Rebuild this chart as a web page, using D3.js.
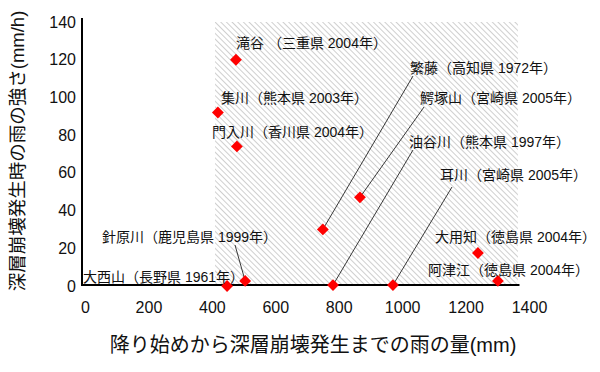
<!DOCTYPE html>
<html>
<head>
<meta charset="utf-8">
<script src="https://cdn.jsdelivr.net/npm/d3@7"></script>
<style>
  body { margin: 0; background: #fff; }
  text { font-family: "Liberation Sans", "Noto Sans CJK JP", sans-serif; fill: #111; }
</style>
</head>
<body>
<div id="chart"></div>
<script>
// data
var sites = ["滝谷 （三重県 2004年）", "集川（熊本県 2003年）", "門入川（香川県 2004年）",
             "繁藤（高知県 1972年）", "鰐塚山（宮崎県 2005年）", "油谷川（熊本県 1997年）",
             "耳川（宮崎県 2005年）", "大用知（徳島県 2004年）", "阿津江（徳島県 2004年）",
             "針原川（鹿児島県 1999年）", "大西山（長野県 1961年）"];
var rainTotal = [476, 419, 479, 750, 867, 782, 971, 1239, 1302, 505, 448];   // mm
var rainPeak  = [120, 92, 74, 30, 47, 0.5, 0.5, 17.5, 2.7, 2.7, 0];         // mm/h
var xTicks = [0, 200, 400, 600, 800, 1000, 1200, 1400];
var yTicks = [0, 20, 40, 60, 80, 100, 120, 140];
var zone = [410, 1365];   // shaded band of rain total

// label placement (pixels) and leader line start, null = no leader
var labelPos = [[236, 43], [221, 98], [212, 132], [410, 68], [420, 98], [409, 142],
                [440, 175], [435, 237], [428, 270], [102, 237], [83, 277]];
var leaderFrom = [null, null, null, [413, 76], [424, 107], [413, 150],
                  [452, 187], null, null, [235, 245], null];

var W = 600, H = 372;

var svg = d3.select("#chart").append("svg")
    .attr("width", W)
    .attr("height", H);

var x = d3.scaleLinear().domain([0, 1400]).range([85, 529]);
var y = d3.scaleLinear().domain([0, 140]).range([286, 22]);

// hatch
var defs = svg.append("defs");
defs.append("pattern")
    .attr("id", "hatch")
    .attr("patternUnits", "userSpaceOnUse")
    .attr("width", 4)
    .attr("height", 4)
    .attr("patternTransform", "rotate(-45)")
  .append("line")
    .attr("x1", 0).attr("y1", 0)
    .attr("x2", 0).attr("y2", 4)
    .attr("stroke", "#b4b4b4")
    .attr("stroke-width", 1.3);

svg.append("rect")
    .attr("x", x(zone[0]))
    .attr("y", y(140))
    .attr("width", x(zone[1]) - x(zone[0]))
    .attr("height", y(0) - y(140))
    .attr("fill", "url(#hatch)");

// axes
var yAxis = d3.axisLeft(y).tickValues(yTicks).tickSize(0).tickPadding(6);
var xAxis = d3.axisBottom(x).tickValues(xTicks).tickFormat(d3.format("d"))
    .tickSize(0).tickPadding(16);

var gy = svg.append("g").attr("transform", "translate(82,0)").call(yAxis);
var gx = svg.append("g").attr("transform", "translate(0," + y(0) + ")").call(xAxis);
[gx, gy].forEach(function(g) {
    g.select(".domain").remove();
    g.selectAll("text").attr("font-size", 16).attr("font-family", null).attr("fill", "#111");
});

svg.append("line")
    .attr("x1", 82).attr("x2", 82)
    .attr("y1", 18).attr("y2", y(0))
    .attr("stroke", "#000").attr("stroke-width", 2);
svg.append("line")
    .attr("x1", 81).attr("x2", x(1370))
    .attr("y1", y(0) - 1).attr("y2", y(0) - 1)
    .attr("stroke", "#000").attr("stroke-width", 2);

// leaders
var idx = d3.range(sites.length);
svg.selectAll(".leader")
    .data(idx.filter(function(i) { return leaderFrom[i]; }))
    .enter().append("line")
    .attr("class", "leader")
    .attr("x1", function(i) { return leaderFrom[i][0]; })
    .attr("y1", function(i) { return leaderFrom[i][1]; })
    .attr("x2", function(i) { return x(rainTotal[i]); })
    .attr("y2", function(i) { return y(rainPeak[i]); })
    .attr("stroke", "#222")
    .attr("stroke-width", 0.9);

// markers
svg.selectAll(".pt")
    .data(idx)
    .enter().append("path")
    .attr("class", "pt")
    .attr("d", d3.symbol(d3.symbolSquare, 70))
    .attr("transform", function(i) {
        return "translate(" + x(rainTotal[i]) + "," + y(rainPeak[i]) + ") rotate(45)";
    })
    .attr("fill", "#ff0000");

// labels
svg.selectAll(".lab")
    .data(idx)
    .enter().append("text")
    .attr("class", "lab")
    .attr("x", function(i) { return labelPos[i][0]; })
    .attr("y", function(i) { return labelPos[i][1]; })
    .attr("dy", "0.35em")
    .attr("font-size", 14)
    .text(function(i) { return sites[i]; });

// titles
svg.append("text")
    .attr("transform", "translate(18,151) rotate(-90)")
    .attr("text-anchor", "middle")
    .attr("dy", "0.35em")
    .attr("font-size", 18.5)
    .text("深層崩壊発生時の雨の強さ(mm/h)");

svg.append("text")
    .attr("x", 313)
    .attr("y", 345)
    .attr("text-anchor", "middle")
    .attr("dy", "0.35em")
    .attr("font-size", 20)
    .text("降り始めから深層崩壊発生までの雨の量(mm)");
</script>
</body>
</html>
